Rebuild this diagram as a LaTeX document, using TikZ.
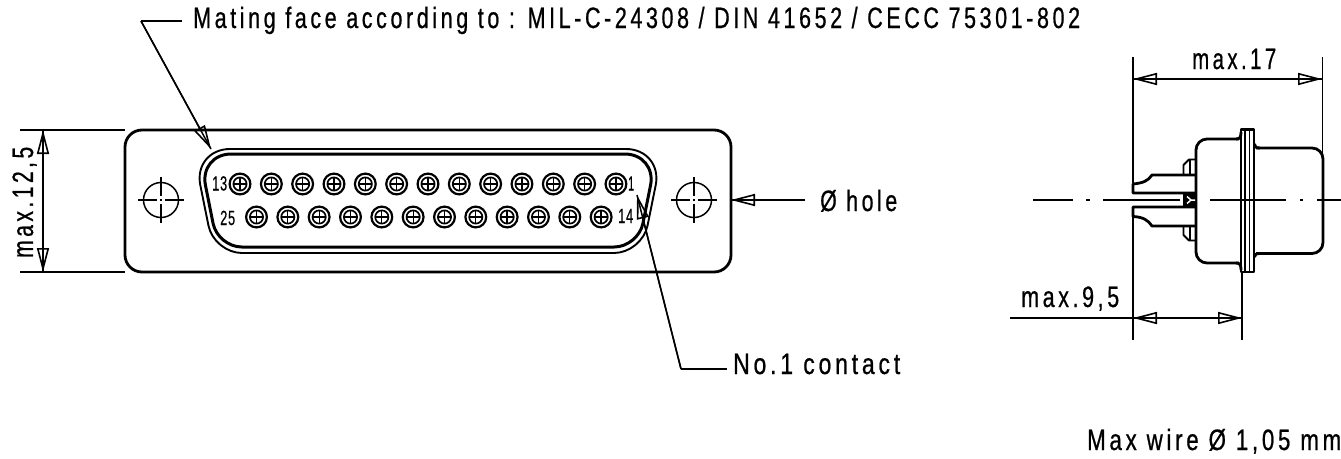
\documentclass[tikz,border=0pt]{standalone}
\usepackage{fontspec}
\usepackage{graphicx}
\setmainfont[FakeStretch=0.66,LetterSpace=11,FakeBold=0.6]{Liberation Sans}
\newfontfamily\numfont[FakeStretch=0.7,LetterSpace=4,FakeBold=0.5]{Liberation Sans}
\usetikzlibrary{arrows.meta}
\newcommand{\fitw}[2]{\resizebox{#1pt}{\height}{#2}}
\tikzset{
  x=1pt,y=-1pt,
  heavy/.style={line width=2.8pt,line join=round},
  medium/.style={line width=1.9pt,line join=round},
  fine/.style={line width=1.5pt},
  headtip/.style={fine,-{Triangle[open,length=24pt,width=12pt,line width=1.6pt]}},
  txt/.style={inner sep=0pt,anchor=base west,font=\fontsize{29.5}{31}\selectfont},
  smalltxt/.style={inner sep=0pt,anchor=base west,font=\numfont\fontsize{20.5}{22}\selectfont}
}
\newcommand{\pinat}[2]{%
  \draw[line width=2.2pt] (#1,#2) circle (10.4);
  \draw[line width=1.7pt] (#1,#2) circle (6.6);
  \draw[line width=1.3pt] (#1-6.6,#2) -- (#1+6.6,#2) (#1,#2-6.6) -- (#1,#2+6.6);
}
\newcommand{\holeat}[2]{%
  \draw[fine] (#1,#2) circle (17.5);
  \draw[fine] (#1-23,#2) -- (#1-4,#2) (#1+4,#2) -- (#1+23,#2)
              (#1,#2-23) -- (#1,#2-4) (#1,#2+4) -- (#1,#2+23)
              (#1-1,#2) -- (#1+1,#2);
}
\newcommand{\leaderarrow}[2]{%
  \draw[headtip] (#1) -- (#2);
  \draw[fine] (#1) -- (#2);
}
\begin{document}
\begin{tikzpicture}
\path[use as bounding box] (0,0) rectangle (1341,458);

% named points
\coordinate (matingEnd) at (182,21);
\coordinate (matingBend) at (141,21);
\coordinate (matingTip) at (211,149);
\coordinate (contactEnd) at (727,369);
\coordinate (contactBend) at (681,369);
\coordinate (contactTip) at (637,195);
\coordinate (holeEnd) at (805,200);
\coordinate (holeTip) at (731,200);
\coordinate (hA) at (43,130);
\coordinate (hB) at (43,272);
\coordinate (wA) at (1133,79);
\coordinate (wB) at (1322,79);
\coordinate (dA) at (1133,318);
\coordinate (dB) at (1242,318);
\coordinate (dFree) at (1010,318);

% flange, front view
\draw[heavy,rounded corners=17pt] (125,130) rectangle (731,272);

% shell
\draw[medium] (428,149)
  [rounded corners=37pt] -- (663,149)
  [rounded corners=28pt] -- (642,253) -- (214,253)
  [rounded corners=37pt] -- (193,149) -- (428,149);
\draw[line width=3pt,line join=round] (428,154)
  [rounded corners=32pt] -- (656.8,154)
  [rounded corners=24pt] -- (638.2,247) -- (217.8,247)
  [rounded corners=32pt] -- (199.2,154) -- (428,154);

% contacts
\foreach \i in {0,...,12} {\pinat{240+\i*31.33}{184}}
\foreach \i in {0,...,11} {\pinat{256.5+\i*31.33}{217}}

% mounting holes
\holeat{161}{200}
\holeat{694}{200}

% pin numbers
\node[smalltxt] (n13) at (212,190.5) {\fitw{15}{13}};
\node[smalltxt] (n25) at (220,225) {\fitw{15}{25}};
\node[smalltxt] (n1)  at (628,190.5) {\fitw{6}{1}};
\node[smalltxt] (n14) at (618,223) {\fitw{15}{14}};

% leaders
\draw[fine] (matingEnd) -- (matingBend);
\leaderarrow{matingBend}{matingTip}
\draw[fine] (contactEnd) -- (contactBend);
\leaderarrow{contactBend}{contactTip}
\leaderarrow{holeEnd}{holeTip}

\node[txt] (mating) at (193,28) {\fitw{887}{Mating face according to : MIL-C-24308 / DIN 41652 / CECC 75301-802}};
\node[txt] (hole) at (820,211) {\fitw{77}{Ø hole}};
\node[txt] (contact) at (733,374) {\fitw{167}{No.1 contact}};

% height dimension
\draw[fine] (20,130) -- (125,130) (20,272) -- (125,272);
\leaderarrow{hB}{hA}
\leaderarrow{hA}{hB}
\node[txt,rotate=90] (h125) at (33,258) {\fitw{111}{max.12,5}};

% side view: body
\draw[heavy,rounded corners=11pt] (1239,139) -- (1196,139) -- (1196,263) -- (1239,263);
\draw[heavy] (1241,132) .. controls (1241,137) and (1240,139) .. (1236,139);
\draw[heavy] (1241,270) .. controls (1241,265) and (1240,263) .. (1236,263);
\draw[heavy] (1241,129.5) rectangle (1254,272);
\draw[line width=1.4pt] (1245,129.5) -- (1245,272) (1249.5,129.5) -- (1249.5,272);
\draw[heavy,rounded corners=11pt] (1256,148) -- (1323,148) -- (1323,253.5) -- (1256,253.5);
\draw[heavy] (1254.5,144) .. controls (1254.5,147) and (1256,148) .. (1260,148);
\draw[heavy] (1254.5,257) .. controls (1254.5,254.5) and (1256,253.5) .. (1260,253.5);

% side view: terminals
\draw[heavy] (1196,175) -- (1152,175)
  .. controls (1148,181) and (1143,183) .. (1133,184)
  -- (1133,193) -- (1196,193);
\draw[heavy] (1196,226) -- (1152,226)
  .. controls (1148,220) and (1143,217) .. (1133,216.5)
  -- (1133,207) -- (1196,207);
\fill (1183,193) rectangle (1197,207);
\draw[white,line width=1.5pt] (1187,196.5) -- (1191,200) -- (1187,203.5) (1191,200) -- (1195,200);
\draw[medium] (1196,159.5) -- (1189,159.5) -- (1183.5,165) -- (1183.5,175);
\draw[line width=1.4pt] (1190,160) -- (1190,175);
\draw[medium] (1196,240.5) -- (1189,240.5) -- (1183.5,235) -- (1183.5,226);
\draw[line width=1.4pt] (1190,240) -- (1190,226);

% side view: centre line
\draw[fine] (1033,200) -- (1073,200) (1086,200) -- (1090,200) (1103,200) -- (1180,200)
  (1210,200) -- (1286,200) (1300,200) -- (1303,200) (1317,200) -- (1341,200);

% side view: dimensions
\draw[fine] (1133,57) -- (1133,183) (1133,217) -- (1133,340);
\draw[fine] (1322.3,57) -- (1322.3,155);
\draw[fine] (1242,272) -- (1242,340);
\leaderarrow{wB}{wA}
\leaderarrow{wA}{wB}
\leaderarrow{dB}{dA}
\leaderarrow{dA}{dB}
\draw[fine] (dFree) -- (dA);

\node[txt] (w17) at (1192,69) {\fitw{84}{max.17}};
\node[txt] (d95) at (1021,307) {\fitw{98}{max.9,5}};
\node[txt] (wire) at (1087,450) {\fitw{254}{Max wire Ø 1,05 mm}};
\end{tikzpicture}
\end{document}
